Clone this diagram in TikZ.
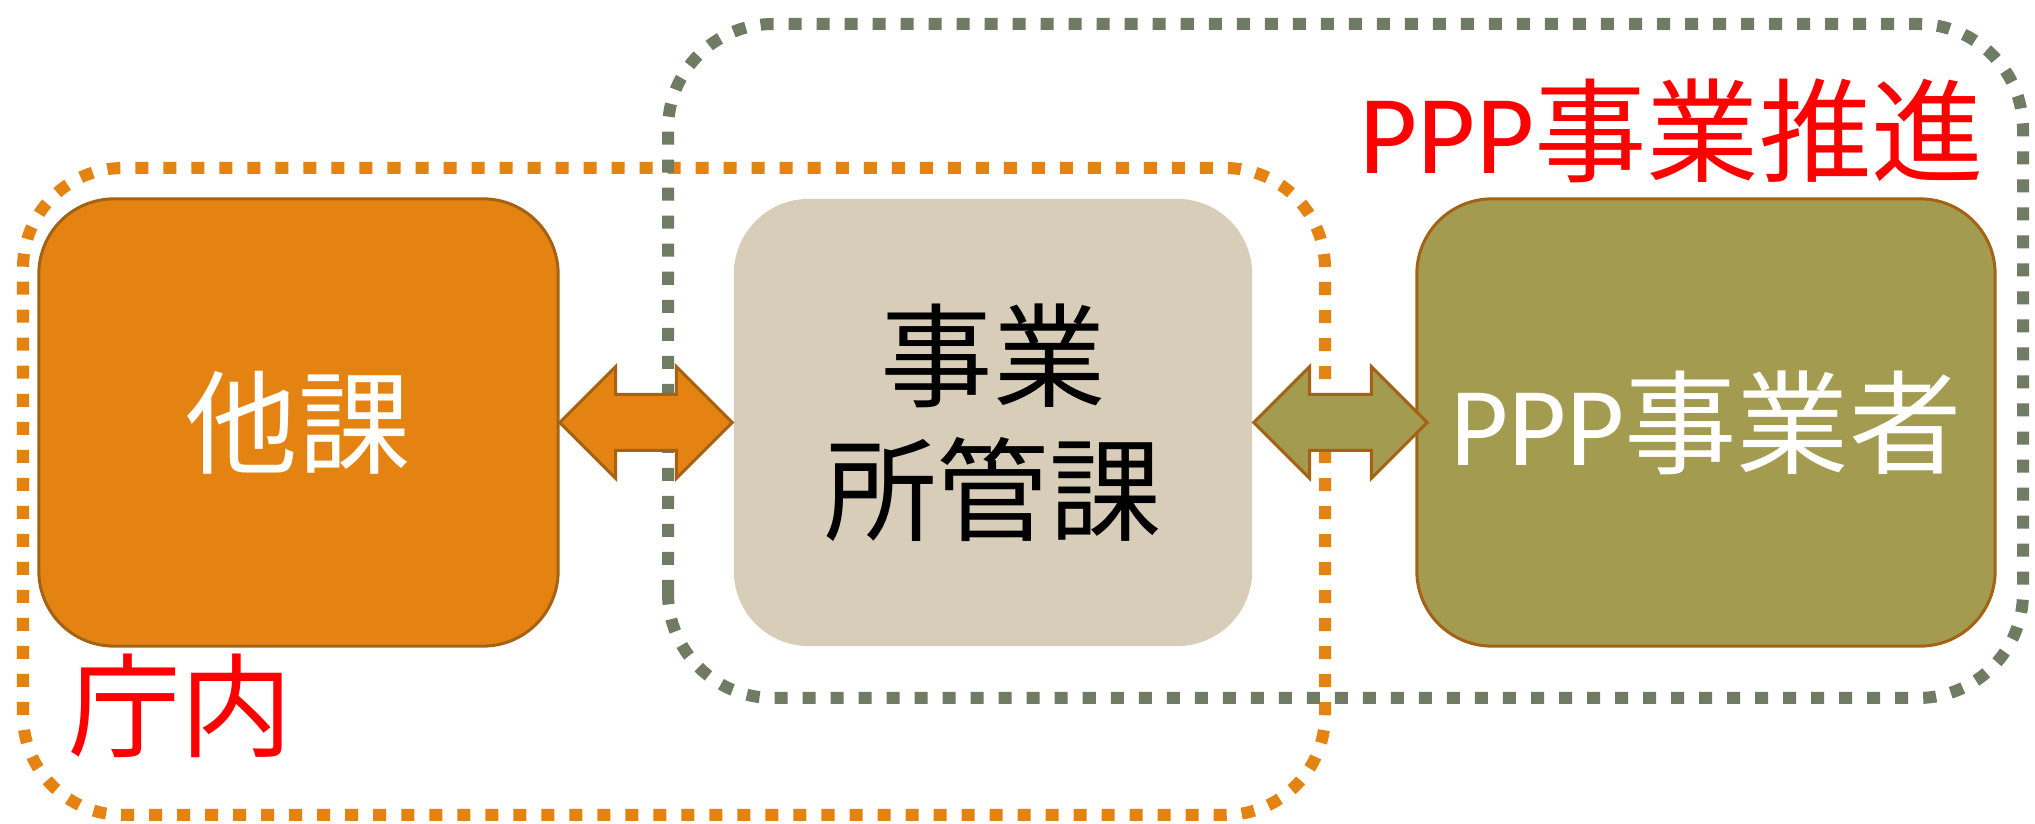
\documentclass[tikz,border=0pt]{standalone}
\usepackage{fontspec}
\newfontfamily\jpfont{Noto Sans CJK JP}
\newfontfamily\enfont{Carlito}
\usetikzlibrary{calc}
\definecolor{kaorange}{RGB}{228,131,18}
\definecolor{kaborder}{RGB}{166,98,20}
\definecolor{shokan}{RGB}{216,205,184}
\definecolor{jigyosha}{RGB}{163,155,80}
\definecolor{suishin}{RGB}{111,123,99}
\tikzset{
  kabox/.style={rectangle, rounded corners=0.75cm, minimum height=4.47cm, inner sep=0pt, line width=0.03cm, font=\jpfont\fontsize{32}{38}\selectfont},
  waku/.style={line width=0.12cm, dash pattern=on 0.13cm off 0.15cm, rounded corners=1cm},
  yajirushi/.style={line width=0.03cm, draw=kaborder, line join=miter},
  redtext/.style={text=red, inner sep=0pt, font=\jpfont\fontsize{32}{38}\selectfont}
}

\begin{document}
\begin{tikzpicture}[x=0.01cm, y=0.01cm]
    \useasboundingbox (0,0) rectangle (2035,824);
    \draw[waku, kaorange] (23,9) rectangle (1325,656);
    \draw[waku, suishin, rounded corners=1.05cm] (668,126) rectangle (2023,800);
    \node[kabox, fill=kaorange, draw=kaborder, text=white, minimum width=5.19cm] (Taka) at (298.5,401.5) {他課};
    \node[kabox, fill=shokan, minimum width=5.18cm, align=center] (Shokan) at (993,401.5) {事業\\所管課};
    \node[kabox, fill=jigyosha, draw=kaborder, text=white, minimum width=5.78cm] (Jigyosha) at (1706,401.5) {{\enfont PPP}事業者};
    \coordinate (Jtip) at ($(Jigyosha.west)+(12,0)$);
    \draw[yajirushi, fill=kaorange] (Taka.east) -- ++(56,56) -- ++(0,-28) -- ($(Shokan.west)+(-56,28)$) -- ++(0,28) -- (Shokan.west)
        -- ++(-56,-56) -- ++(0,28) -- ($(Taka.east)+(56,-28)$) -- ++(0,-28) -- cycle;
    \draw[yajirushi, fill=jigyosha] (Shokan.east) -- ++(56,56) -- ++(0,-28) -- ($(Jtip)+(-56,28)$) -- ++(0,28) -- (Jtip)
        -- ++(-56,-56) -- ++(0,28) -- ($(Shokan.east)+(56,-28)$) -- ++(0,-28) -- cycle;
    \node[redtext] (Suishin) at (1672,693) {{\enfont PPP}事業推進};
    \node[redtext] (Chonai) at (181,118) {庁内};
\end{tikzpicture}
\end{document}
